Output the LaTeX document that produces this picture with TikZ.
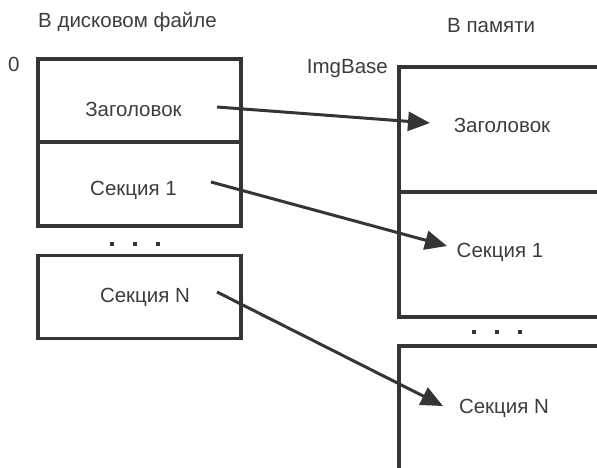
\documentclass[tikz,border=0pt]{standalone}
\usepackage{fontspec}
\setmainfont{Liberation Sans}
\usetikzlibrary{arrows.meta}
\definecolor{ln}{HTML}{353535}
\definecolor{tx}{HTML}{3C3C3C}
\tikzset{
  boxline/.style={draw=ln, line width=3.6pt},
  lbl/.style={text=tx, font=\fontsize{20.5}{24}\selectfont, anchor=base, inner sep=0pt},
  conn/.style={draw=ln, line width=3pt, -{Triangle[length=22pt,width=19pt]}},
  dotmark/.style={fill=ln, rectangle, inner sep=0pt, minimum size=4.5pt}
}
\begin{document}
\begin{tikzpicture}[x=1pt,y=-1pt]
\useasboundingbox (0,0) rectangle (597,467);
\clip (0,0) rectangle (597,467);
% left (disk file)
\node[boxline, minimum width=203pt, minimum height=83pt, inner sep=0pt] (lb1) at (139.5,100.5) {};
\node[boxline, minimum width=203pt, minimum height=84pt, inner sep=0pt] (lb2) at (139.5,184) {};
\node[boxline, minimum width=203pt, minimum height=83pt, inner sep=0pt] (lb3) at (139.5,297) {};
\node[dotmark] (ld1) at (112,244) {};
\node[dotmark] (ld2) at (135,244) {};
\node[dotmark] (ld3) at (158,244) {};
% right (memory)
\node[boxline, minimum width=240pt, minimum height=125pt, inner sep=0pt] (rb1) at (519,129.5) {};
\node[boxline, minimum width=240pt, minimum height=125pt, inner sep=0pt] (rb2) at (519,254.5) {};
\node[boxline, minimum width=240pt, minimum height=160pt, inner sep=0pt] (rb3) at (519,426) {};
\node[dotmark] (rd1) at (474,332) {};
\node[dotmark] (rd2) at (497,332) {};
\node[dotmark] (rd3) at (520,332) {};
% headings
\node[lbl, anchor=base west] (h1) at (38,27) {В дисковом файле};
\node[lbl, anchor=base west] (h2) at (447,32) {В памяти};
\node[lbl, anchor=base west] (zero) at (8,71) {0};
\node[lbl, anchor=base east] (ib) at (388,73) {ImgBase};
% section labels
\node[lbl] (lz) at (133.5,116) {Заголовок};
\node[lbl] (ls1) at (133.5,195) {Секция 1};
\node[lbl] (lsn) at (145,302) {Секция N};
\node[lbl] (rz) at (502,132) {Заголовок};
\node[lbl] (rs1) at (500,257) {Секция 1};
\node[lbl] (rsn) at (504,413) {Секция N};
% connectors
\coordinate (s1) at (217,107);
\coordinate (e1) at (430,123);
\coordinate (s2) at (211,182);
\coordinate (e2) at (447,246);
\coordinate (s3) at (217,292);
\coordinate (e3) at (443,406);
\draw[conn] (s1) -- (e1);
\draw[conn] (s2) -- (e2);
\draw[conn] (s3) -- (e3);
\end{tikzpicture}
\end{document}
